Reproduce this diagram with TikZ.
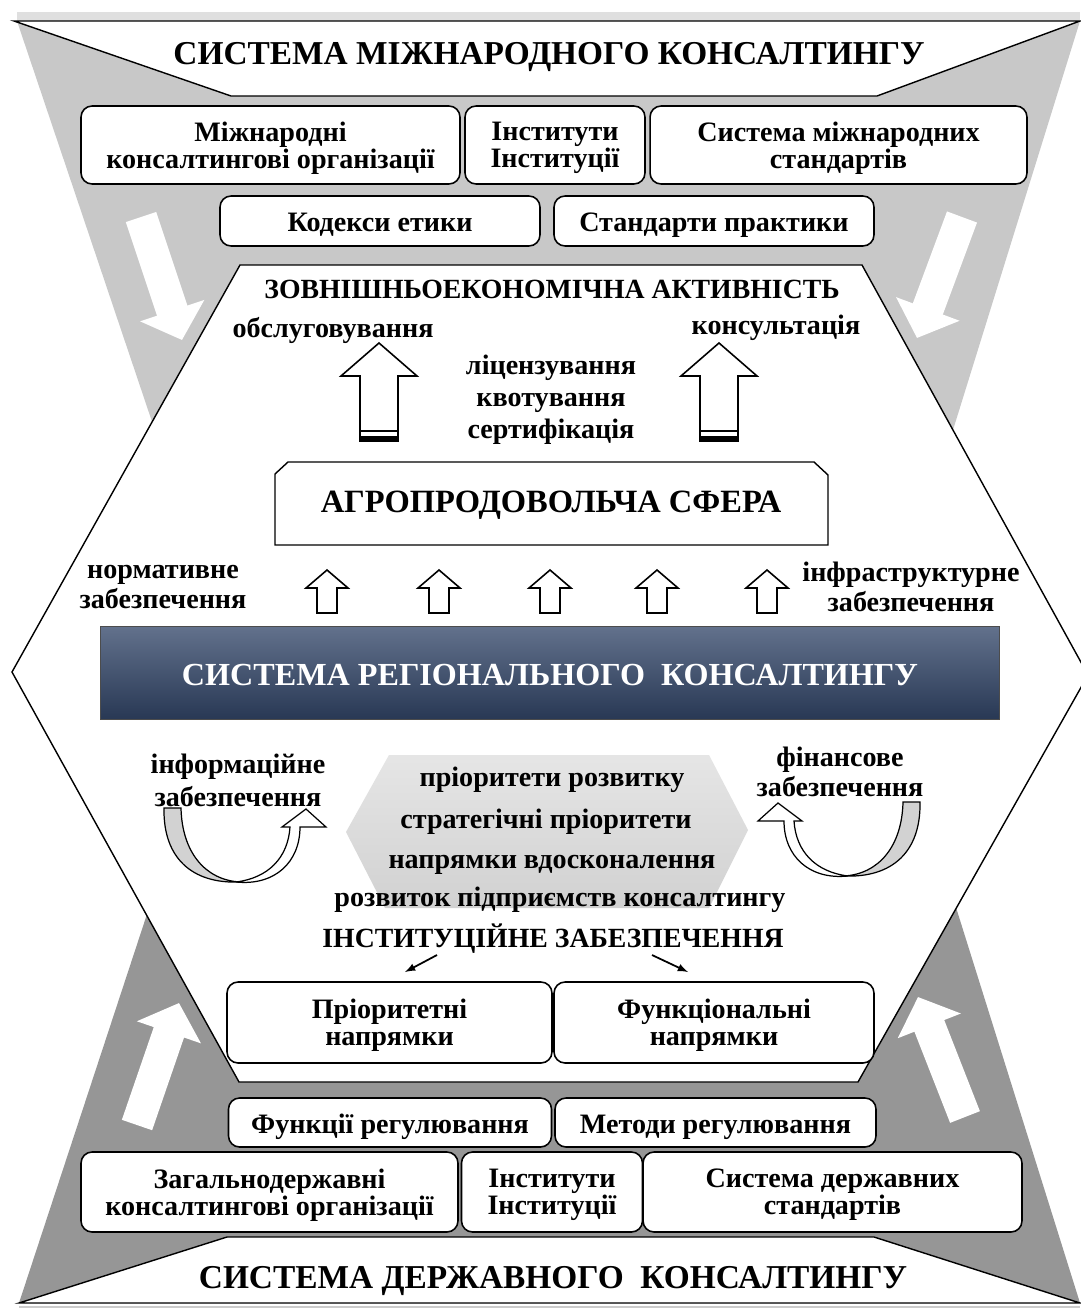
\documentclass[tikz,border=0pt]{standalone}
\usepackage{fontspec}
\setmainfont{Liberation Serif}
\usetikzlibrary{arrows.meta}
\definecolor{lightgr}{RGB}{200,200,200}
\definecolor{darkgr}{RGB}{150,150,150}
\definecolor{bartop}{RGB}{98,113,140}
\definecolor{barbot}{RGB}{40,56,84}

\newcommand{\hollowup}[1]{%
	\draw[fill=white,line width=0.9pt] (#1,343) -- ({#1+38},376) -- ({#1+19},376) -- ({#1+19},440) -- ({#1-19},440) -- ({#1-19},376) -- ({#1-38},376) -- cycle;
	\draw[line width=0.8pt] ({#1-19},431) -- ({#1+19},431);
	\fill ({#1-20},436) rectangle ({#1+20},442);
}
\newcommand{\smallup}[1]{%
	\draw[fill=white,line width=0.9pt] (#1,570) -- ({#1+21},588) -- ({#1+10},588) -- ({#1+10},613) -- ({#1-10},613) -- ({#1-10},588) -- ({#1-21},588) -- cycle;
}
\newcommand{\swirl}{%
	\draw[fill=gray!35,line width=0.7pt] (240,882) .. controls (205,880) and (182,852) .. (181,808) -- (164,808) .. controls (163,858) and (192,884) .. (240,882);
	\draw[fill=white,line width=0.7pt] (236,882) .. controls (268,878) and (288,858) .. (290,827) -- (282,827) -- (306,809) -- (326,827) -- (300,827) .. controls (300,862) and (275,886) .. (236,882);
}

\begin{document}
\begin{tikzpicture}[x=0.02cm,y=-0.02cm,>=latex,
		box/.style={draw,fill=white,rounded corners=0.22cm,line width=0.9pt,align=center,inner sep=0pt,text depth=0pt,font=\bfseries\fontsize{16}{15.5}\selectfont},
		box1/.style={box,text height=13.8pt,text depth=1.6pt},
		lbl/.style={align=center,inner sep=0pt,font=\bfseries\fontsize{16}{17}\selectfont},
		txt/.style={inner sep=0pt,text height=13.8pt,text depth=1.6pt,font=\bfseries\fontsize{16}{17}\selectfont},
		caps/.style={inner sep=0pt,text height=13.6pt,text depth=1.6pt,font=\bfseries\fontsize{15.8}{17}\selectfont},
		head/.style={inner sep=0pt,text height=16.3pt,text depth=1.9pt,font=\bfseries\fontsize{19}{21}\selectfont},
		bigarr/.style={white,line width=0.64cm,-{Triangle[width=1.32cm,length=0.62cm]}}]
	\useasboundingbox (0,0) rectangle (1080,1311);
	\fill[white] (0,0) rectangle (1080,1311);

	\fill[gray!25] (17,12) rectangle (1080,21);
	\fill[lightgr] (17,21) -- (1080,21) -- (880,665) -- (234,665) -- cycle;
	\fill[darkgr] (19,1303) -- (1080,1303) -- (880,665) -- (229,665) -- cycle;
	\draw[fill=white,line width=0.8pt] (14,21) -- (1080,21) -- (877,96) -- (231,96) -- cycle;
	\draw[fill=white,line width=0.8pt] (19,1303) -- (1080,1303) -- (874,1237) -- (227,1237) -- cycle;
	\draw[gray!40,line width=1pt] (19,1307) -- (1080,1307);

	\draw[bigarr] (141,217) -- (182,340);
	\draw[bigarr] (962,217) -- (917,338);
	\draw[bigarr] (137,1125) -- (179,1003);
	\draw[bigarr] (965,1117) -- (918,997);

	\draw[fill=white,line width=0.8pt] (240,265) -- (862,265) -- (1088,675) -- (858,1082) -- (239,1082) -- (12,672) -- cycle;

	\node[head] (tmc) at (549,52) {СИСТЕМА МІЖНАРОДНОГО КОНСАЛТИНГУ};
	\node[box,minimum width=7.58cm,minimum height=1.56cm] (mno) at (270.5,145) {Міжнародні\\консалтингові організації};
	\node[box,minimum width=3.6cm,minimum height=1.56cm] (ins1) at (555,145) {Інститути\\Інституції};
	\node[box,minimum width=7.54cm,minimum height=1.56cm] (sms) at (838.5,145) {Система міжнародних\\стандартів};
	\node[box1,minimum width=6.4cm,minimum height=1cm] (kod) at (380,221) {Кодекси етики};
	\node[box1,minimum width=6.4cm,minimum height=1cm] (stp) at (714,221) {Стандарти практики};

	\node[caps] (zea) at (552,288) {ЗОВНІШНЬОЕКОНОМІЧНА АКТИВНІСТЬ};
	\node[txt] (obs) at (333,327) {обслуговування};
	\node[txt] (kns) at (776,324) {консультація};
	\node[lbl,font=\bfseries\fontsize{16}{18.2}\selectfont] (lic) at (551,400) {ліцензування\\квотування\\сертифікація};
	\hollowup{379}
	\hollowup{719}

	\draw[fill=white,line width=0.8pt] (275,474) -- (288,462) -- (814,462) -- (828,475) -- (828,545) -- (275,545) -- cycle;
	\node[inner sep=0pt,text height=15.9pt,text depth=1.85pt,font=\bfseries\fontsize{18.5}{19}\selectfont] (agro) at (551,500) {АГРОПРОДОВОЛЬЧА СФЕРА};

	\foreach \x in {327,439,550,657,767} {\smallup{\x}}
	\node[lbl] (nrm) at (163,587) {нормативне\\забезпечення};
	\node[lbl] (inf) at (911,587) {інфраструктурне\\забезпечення};

	\node[minimum width=18cm,minimum height=1.86cm,top color=bartop,bottom color=barbot,draw=gray!60!black,line width=0.5pt,text=white,text height=15.7pt,text depth=1.8pt,font=\bfseries\fontsize{18.3}{19}\selectfont] (reg) at (550,673) {СИСТЕМА РЕГІОНАЛЬНОГО\ \ КОНСАЛТИНГУ};

	\shade[top color=gray!20,bottom color=gray!36] (346,832) -- (389,755) -- (709,755) -- (748,830) -- (709,908) -- (385,908) -- cycle;
	\node[lbl,font=\bfseries\fontsize{16}{18.7}\selectfont] (ifz) at (238,780) {інформаційне\\забезпечення};
	\node[lbl] (fin) at (840,772) {фінансове\\забезпечення};
	\swirl
	\begin{scope}[shift={(1084,-6)},xscale=-1]
		\swirl
	\end{scope}

	\node[txt] (pr1) at (552,776) {пріоритети розвитку};
	\node[txt] (pr2) at (546,818) {стратегічні пріоритети};
	\node[txt] (pr3) at (552,858) {напрямки вдосконалення};
	\node[txt] (pr4) at (560,896) {розвиток підприємств консалтингу};
	\node[caps] (inz) at (553,937) {ІНСТИТУЦІЙНЕ ЗАБЕЗПЕЧЕННЯ};

	\coordinate (a1) at (437,955);
	\coordinate (b1) at (405,972);
	\coordinate (a2) at (652,955);
	\coordinate (b2) at (688,972);
	\draw[->,line width=1pt] (a1) -- (b1);
	\draw[->,line width=1pt] (a2) -- (b2);

	\node[box,minimum width=6.5cm,minimum height=1.62cm] (prn) at (389.5,1022.5) {Пріоритетні\\напрямки};
	\node[box,minimum width=6.4cm,minimum height=1.62cm] (fnn) at (714,1022.5) {Функціональні\\напрямки};
	\node[box1,minimum width=6.46cm,minimum height=0.98cm] (fre) at (390,1122.5) {Функції регулювання};
	\node[box1,minimum width=6.42cm,minimum height=0.98cm] (mre) at (715.5,1122.5) {Методи регулювання};
	\node[box,minimum width=7.54cm,minimum height=1.6cm] (zko) at (269.5,1192) {Загальнодержавні\\консалтингові організації};
	\node[box,minimum width=3.62cm,minimum height=1.6cm] (ins2) at (552,1192) {Інститути\\Інституції};
	\node[box,minimum width=7.58cm,minimum height=1.6cm] (sds) at (832.5,1192) {Система державних\\стандартів};
	\node[head] (dmc) at (553,1276) {СИСТЕМА ДЕРЖАВНОГО\ \ КОНСАЛТИНГУ};
\end{tikzpicture}
\end{document}
